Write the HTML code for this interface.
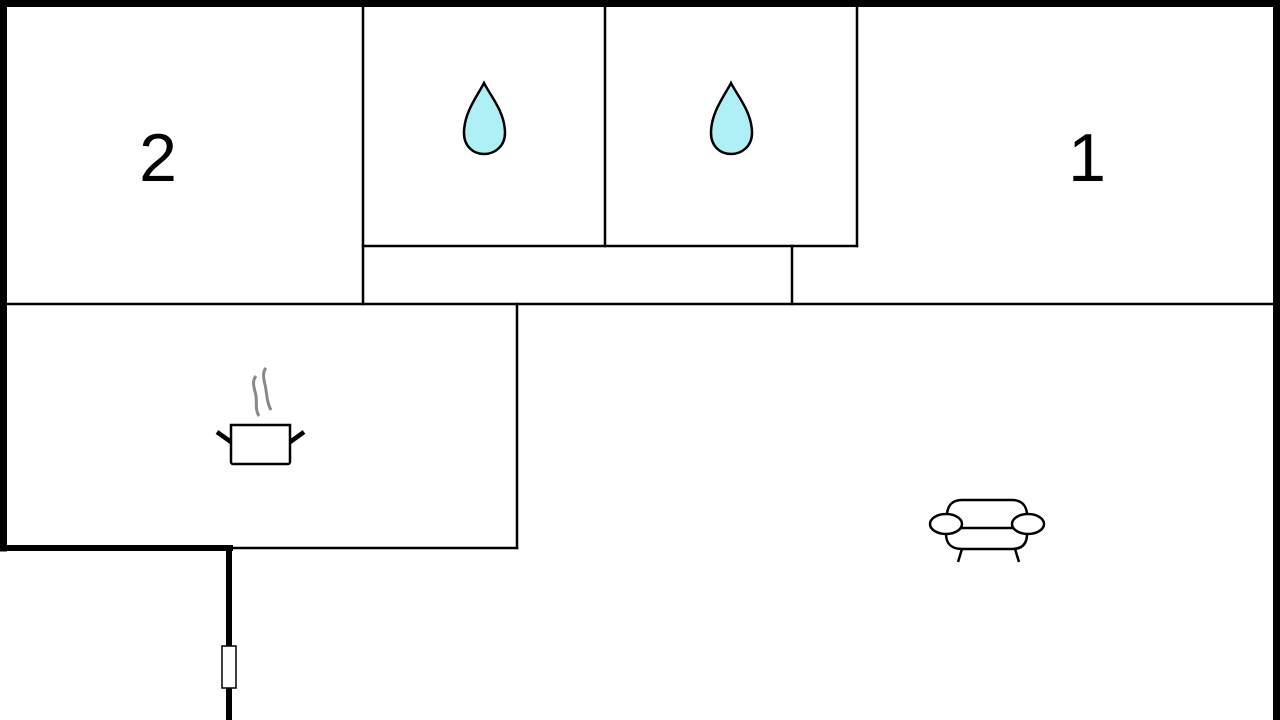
<!DOCTYPE html>
<html><head><style>
html,body{margin:0;padding:0;background:#fff;width:1280px;height:720px;overflow:hidden}
</style></head><body>
<svg width="1280" height="720" viewBox="0 0 1280 720" xmlns="http://www.w3.org/2000/svg">
<rect width="1280" height="720" fill="#fff"/>
<g stroke="#000" fill="none" stroke-linecap="square">
<line x1="0" y1="3.5" x2="1280" y2="3.5" stroke-width="7"/>
<line x1="3.5" y1="0" x2="3.5" y2="548" stroke-width="7"/>
<line x1="1276.5" y1="0" x2="1276.5" y2="720" stroke-width="7"/>
<line x1="0" y1="548" x2="230" y2="548" stroke-width="6"/>
<line x1="229" y1="548" x2="229" y2="720" stroke-width="6"/>
<g stroke-width="2.5">
<line x1="363" y1="4" x2="363" y2="304"/>
<line x1="605" y1="4" x2="605" y2="246"/>
<line x1="857" y1="4" x2="857" y2="246"/>
<line x1="363" y1="246" x2="857" y2="246"/>
<line x1="792" y1="246" x2="792" y2="304"/>
<line x1="4" y1="304" x2="1276" y2="304"/>
<line x1="517" y1="304" x2="517" y2="548"/>
<line x1="230" y1="548" x2="517" y2="548"/>
</g>
</g>
<rect x="222" y="646" width="14" height="42" fill="#fff" stroke="#000" stroke-width="1.5"/>
<text x="158" y="181" font-family="Liberation Sans, sans-serif" font-size="68" text-anchor="middle">2</text>
<text x="1087" y="181" font-family="Liberation Sans, sans-serif" font-size="68" text-anchor="middle">1</text>
<path d="M484 83 C478 95 464 112 464 133 C464 146 473 154 484 154 C495 154 505 146 505 133 C505 112 490 95 484 83 Z" fill="#aef0f5" stroke="#000" stroke-width="2.5"/>
<path d="M731 83 C725 95 711 112 711 133 C711 146 720 154 731 154 C742 154 752 146 752 133 C752 112 737 95 731 83 Z" fill="#aef0f5" stroke="#000" stroke-width="2.5"/>
<g fill="none">
<path d="M256 376 C251 382 255 390 256 396 C257 403 255 410 259 416" stroke="#888" stroke-width="3"/>
<path d="M266 368 C261 374 265 382 266 390 C267 398 268 405 271 410" stroke="#888" stroke-width="3"/>
<path d="M231 425 L290 425 L290 462 C290 463 289 464 288 464 L233 464 C232 464 231 463 231 462 Z" stroke="#000" stroke-width="2.5"/>
<line x1="217" y1="432" x2="231" y2="442" stroke="#000" stroke-width="4.5"/>
<line x1="304" y1="432" x2="290" y2="442" stroke="#000" stroke-width="4.5"/>
</g>
<g fill="none" stroke="#000" stroke-width="2.5">
<path d="M947 516 C947 506 952 500 962 500 L1012 500 C1022 500 1027 506 1027 516"/>
<ellipse cx="946" cy="524" rx="16" ry="10" fill="#fff"/>
<ellipse cx="1028" cy="524" rx="16" ry="10" fill="#fff"/>
<line x1="960" y1="528" x2="1014" y2="528"/>
<path d="M946 534 C946 544 952 549 962 549 L1012 549 C1022 549 1027 544 1027 534"/>
<line x1="962" y1="549" x2="958" y2="562"/>
<line x1="1015" y1="549" x2="1019" y2="562"/>
</g>
</svg>
</body></html>
